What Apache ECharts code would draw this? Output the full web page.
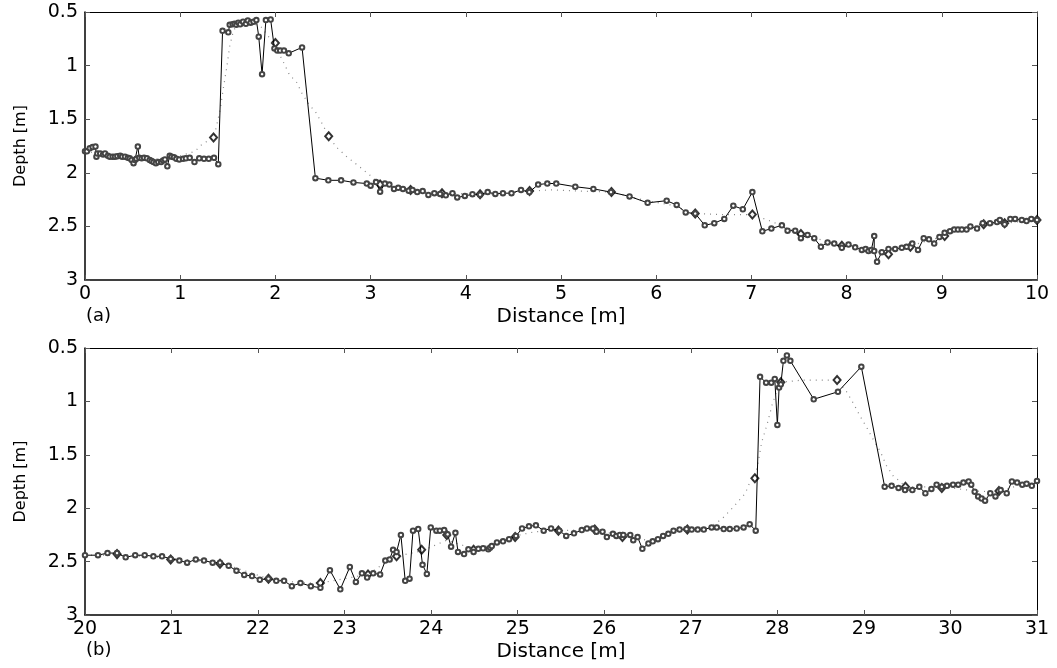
<!DOCTYPE html>
<html>
<head>
<meta charset="utf-8">
<script src="https://cdn.jsdelivr.net/npm/echarts@6/dist/echarts.min.js"></script>
<style>html,body{margin:0;padding:0;background:#fff}#c{width:1057px;height:668px}</style>
</head>
<body>
<div id="c"></div>
<script>
// ---- Panel (a) data ----
const topSolid = [[0,1.80],[0.02,1.80],[0.05,1.77],[0.08,1.76],[0.11,1.755],[0.12,1.85],[0.13,1.82],[0.16,1.82],[0.19,1.83],[0.21,1.82],[0.24,1.84],[0.26,1.85],[0.29,1.85],[0.315,1.85],[0.34,1.845],[0.37,1.84],[0.39,1.85],[0.42,1.85],[0.45,1.86],[0.47,1.865],[0.49,1.88],[0.51,1.91],[0.525,1.88],[0.54,1.87],[0.555,1.755],[0.57,1.86],[0.595,1.865],[0.62,1.86],[0.65,1.865],[0.68,1.88],[0.70,1.89],[0.72,1.90],[0.745,1.91],[0.77,1.90],[0.80,1.90],[0.82,1.885],[0.84,1.875],[0.865,1.94],[0.89,1.84],[0.91,1.85],[0.935,1.855],[0.96,1.87],[0.99,1.875],[1.03,1.87],[1.06,1.865],[1.10,1.86],[1.15,1.90],[1.20,1.865],[1.25,1.87],[1.30,1.87],[1.355,1.86],[1.40,1.92],[1.445,0.675],[1.505,0.69],[1.52,0.62],[1.55,0.615],[1.57,0.61],[1.59,0.62],[1.61,0.60],[1.63,0.615],[1.66,0.59],[1.69,0.61],[1.71,0.58],[1.74,0.60],[1.77,0.59],[1.80,0.575],[1.825,0.73],[1.86,1.08],[1.90,0.575],[1.95,0.57],[1.99,0.84],[2.02,0.86],[2.05,0.86],[2.09,0.86],[2.14,0.885],[2.28,0.83],[2.42,2.05],[2.556,2.07],[2.69,2.07],[2.82,2.09],[2.96,2.10],[3.0,2.12],[3.057,2.086],[3.10,2.176],[3.15,2.10],[3.197,2.11],[3.246,2.15],[3.29,2.14],[3.34,2.15],[3.40,2.167],[3.44,2.16],[3.49,2.18],[3.547,2.17],[3.607,2.207],[3.67,2.19],[3.73,2.197],[3.79,2.21],[3.86,2.19],[3.91,2.23],[3.99,2.216],[4.07,2.20],[4.15,2.204],[4.23,2.18],[4.31,2.197],[4.39,2.19],[4.48,2.19],[4.58,2.16],[4.667,2.18],[4.76,2.11],[4.856,2.10],[4.95,2.10],[5.15,2.13],[5.34,2.15],[5.525,2.18],[5.72,2.22],[5.91,2.28],[6.11,2.26],[6.215,2.30],[6.31,2.37],[6.41,2.38],[6.51,2.49],[6.61,2.47],[6.715,2.43],[6.81,2.307],[6.91,2.34],[7.01,2.18],[7.115,2.546],[7.21,2.52],[7.32,2.49],[7.38,2.54],[7.46,2.54],[7.52,2.61],[7.59,2.58],[7.66,2.61],[7.73,2.69],[7.80,2.65],[7.87,2.66],[7.95,2.70],[8.02,2.67],[8.09,2.695],[8.16,2.72],[8.20,2.71],[8.23,2.73],[8.26,2.72],[8.29,2.59],[8.29,2.73],[8.32,2.83],[8.37,2.74],[8.44,2.71],[8.51,2.71],[8.58,2.70],[8.63,2.69],[8.69,2.66],[8.75,2.72],[8.81,2.61],[8.865,2.62],[8.92,2.66],[8.975,2.60],[9.03,2.56],[9.086,2.545],[9.13,2.53],[9.17,2.53],[9.21,2.53],[9.26,2.53],[9.30,2.50],[9.37,2.52],[9.43,2.47],[9.506,2.47],[9.58,2.46],[9.61,2.44],[9.66,2.48],[9.72,2.43],[9.77,2.43],[9.84,2.44],[9.89,2.45],[9.94,2.43],[10.0,2.44]];
const topDotted = [[0,1.80],[0.3,1.84],[0.6,1.87],[0.9,1.87],[1.155,1.80],[1.24,1.725],[1.35,1.68],[1.38,1.57],[1.42,1.41],[1.45,1.23],[1.49,1.01],[1.52,0.82],[1.56,0.67],[1.62,0.61],[1.75,0.60],[1.85,0.64],[1.98,0.79],[2.08,0.96],[2.15,1.09],[2.22,1.15],[2.28,1.26],[2.36,1.37],[2.42,1.43],[2.49,1.54],[2.56,1.66],[2.64,1.76],[2.75,1.85],[2.85,1.92],[2.92,1.97],[2.99,2.02],[3.10,2.11],[3.42,2.16],[3.75,2.19],[4.15,2.20],[4.45,2.19],[4.67,2.17],[4.9,2.16],[5.2,2.17],[5.53,2.18],[5.9,2.26],[6.15,2.30],[6.41,2.38],[6.7,2.39],[7.01,2.39],[7.2,2.45],[7.52,2.57],[7.95,2.68],[8.2,2.71],[8.44,2.76],[8.67,2.68],[9.03,2.59],[9.2,2.53],[9.44,2.48],[9.66,2.47],[10.0,2.44]];
const topDiamonds = [[1.35,1.67],[2.0,0.79],[2.56,1.66],[3.10,2.11],[3.42,2.16],[3.75,2.19],[4.15,2.20],[4.67,2.17],[5.53,2.18],[6.41,2.38],[7.01,2.39],[7.52,2.57],[7.95,2.68],[8.44,2.76],[8.67,2.69],[9.03,2.59],[9.44,2.48],[9.66,2.47],[10.0,2.44]];

// ---- Panel (b) data ----
const botSolid = [[20.0,2.44],[20.15,2.44],[20.26,2.42],[20.37,2.42],[20.47,2.46],[20.58,2.44],[20.69,2.44],[20.79,2.45],[20.89,2.45],[20.99,2.475],[21.09,2.49],[21.18,2.51],[21.28,2.48],[21.375,2.49],[21.475,2.51],[21.56,2.51],[21.66,2.54],[21.75,2.585],[21.84,2.625],[21.93,2.635],[22.02,2.67],[22.12,2.66],[22.21,2.68],[22.30,2.68],[22.39,2.73],[22.49,2.70],[22.61,2.73],[22.72,2.745],[22.83,2.58],[22.95,2.76],[23.06,2.55],[23.13,2.69],[23.20,2.61],[23.26,2.65],[23.33,2.61],[23.41,2.62],[23.47,2.49],[23.52,2.48],[23.56,2.39],[23.60,2.41],[23.65,2.25],[23.70,2.68],[23.75,2.66],[23.79,2.21],[23.85,2.195],[23.90,2.53],[23.95,2.615],[23.995,2.18],[24.06,2.21],[24.10,2.21],[24.15,2.205],[24.19,2.245],[24.23,2.36],[24.28,2.23],[24.31,2.41],[24.38,2.43],[24.43,2.385],[24.49,2.41],[24.545,2.38],[24.60,2.375],[24.66,2.385],[24.68,2.37],[24.70,2.355],[24.76,2.32],[24.83,2.31],[24.90,2.29],[24.98,2.26],[25.05,2.19],[25.13,2.17],[25.21,2.16],[25.30,2.21],[25.385,2.19],[25.48,2.21],[25.56,2.26],[25.65,2.235],[25.74,2.205],[25.80,2.19],[25.87,2.19],[25.91,2.22],[25.98,2.22],[26.03,2.27],[26.10,2.24],[26.14,2.26],[26.18,2.25],[26.22,2.25],[26.30,2.25],[26.335,2.30],[26.385,2.27],[26.44,2.38],[26.51,2.33],[26.56,2.31],[26.62,2.29],[26.68,2.26],[26.74,2.24],[26.80,2.21],[26.87,2.20],[26.95,2.195],[27.01,2.20],[27.08,2.20],[27.15,2.20],[27.24,2.18],[27.30,2.18],[27.38,2.195],[27.45,2.195],[27.53,2.19],[27.61,2.18],[27.68,2.15],[27.75,2.21],[27.80,0.77],[27.87,0.825],[27.93,0.825],[27.97,0.79],[28.00,1.22],[28.02,0.87],[28.04,0.84],[28.07,0.62],[28.11,0.57],[28.15,0.62],[28.42,0.98],[28.70,0.91],[28.97,0.675],[29.24,1.80],[29.32,1.79],[29.40,1.81],[29.475,1.83],[29.56,1.83],[29.64,1.80],[29.71,1.86],[29.78,1.82],[29.84,1.78],[29.90,1.80],[29.96,1.79],[30.03,1.78],[30.09,1.78],[30.15,1.76],[30.21,1.75],[30.24,1.78],[30.28,1.845],[30.32,1.89],[30.36,1.91],[30.40,1.93],[30.46,1.86],[30.52,1.89],[30.58,1.83],[30.65,1.86],[30.71,1.75],[30.77,1.76],[30.83,1.78],[30.88,1.77],[30.94,1.79],[31.0,1.745]];
const botDotted = [[20.0,2.44],[20.5,2.44],[21.0,2.47],[21.56,2.51],[22.12,2.66],[22.5,2.70],[22.72,2.70],[23.0,2.66],[23.27,2.62],[23.45,2.52],[23.60,2.45],[23.89,2.40],[24.18,2.30],[24.49,2.38],[24.8,2.32],[24.97,2.26],[25.2,2.22],[25.47,2.21],[25.89,2.20],[26.21,2.26],[26.5,2.30],[26.96,2.20],[27.2,2.19],[27.36,2.10],[27.49,1.99],[27.63,1.86],[27.67,1.78],[27.74,1.72],[27.78,1.56],[27.82,1.38],[27.88,1.22],[27.94,1.03],[27.99,0.91],[28.04,0.82],[28.3,0.80],[28.69,0.80],[28.80,0.91],[28.88,1.02],[28.95,1.13],[29.03,1.24],[29.11,1.36],[29.19,1.47],[29.26,1.60],[29.34,1.70],[29.42,1.75],[29.48,1.80],[29.90,1.80],[30.3,1.84],[30.56,1.85],[30.8,1.78],[31.0,1.77]];
const botDiamonds = [[20.37,2.43],[20.99,2.48],[21.56,2.52],[22.12,2.66],[22.72,2.70],[23.27,2.62],[23.60,2.45],[23.89,2.39],[24.18,2.25],[24.49,2.39],[24.97,2.27],[25.47,2.21],[25.89,2.20],[26.21,2.27],[26.96,2.20],[27.74,1.72],[28.04,0.82],[28.69,0.80],[29.48,1.80],[29.90,1.81],[30.56,1.84]];

// ---- Axes ----
const depthTicks = {min: 0.5, max: 3, interval: 0.5};
const topRange = {min: 0, max: 10, interval: 1};
const botRange = {min: 20, max: 31, interval: 1};
const panelLabels = ['(a)', '(b)'];
const xName = 'Distance [m]';
const yName = 'Depth [m]';

const FONT = 'DejaVu Sans';
const grids = [
  {left: 85, top: 12, width: 952, height: 268},
  {left: 85, top: 348, width: 952, height: 267}
];
const tick = {show: true, inside: true, length: 5, lineStyle: {color: '#555', width: 1}};
const xAxes = [], yAxes = [];
[topRange, botRange].forEach((r, i) => {
  xAxes.push({type: 'value', gridIndex: i, min: r.min, max: r.max, interval: r.interval, position: 'bottom',
    axisLine: {show: true, onZero: false, lineStyle: {color: '#000', width: 1.5}},
    axisTick: tick, splitLine: {show: false},
    axisLabel: {color: '#000', fontFamily: FONT, fontSize: 19, margin: 5},
    name: xName, nameLocation: 'middle', nameGap: 27,
    nameTextStyle: {color: '#000', fontFamily: FONT, fontSize: 20}});
  xAxes.push({type: 'value', gridIndex: i, min: r.min, max: r.max, interval: r.interval, position: 'top',
    axisLine: {show: true, onZero: false, lineStyle: {color: '#000', width: 1}},
    axisTick: tick, splitLine: {show: false}, axisLabel: {show: false}});
  yAxes.push({type: 'value', gridIndex: i, inverse: true, min: depthTicks.min, max: depthTicks.max, interval: depthTicks.interval, position: 'left',
    axisLine: {show: true, onZero: false, lineStyle: {color: '#000', width: 1.5}},
    axisTick: tick, splitLine: {show: false},
    axisLabel: {color: '#000', fontFamily: FONT, fontSize: 19, margin: 7},
    name: yName, nameLocation: 'middle', nameGap: 56, nameRotate: 90,
    nameTextStyle: {color: '#000', fontFamily: FONT, fontSize: 16}});
  yAxes.push({type: 'value', gridIndex: i, inverse: true, min: depthTicks.min, max: depthTicks.max, interval: depthTicks.interval, position: 'right',
    axisLine: {show: true, onZero: false, lineStyle: {color: '#000', width: 1}},
    axisTick: tick, splitLine: {show: false}, axisLabel: {show: false}});
});

const series = [];
[[topSolid, topDotted, topDiamonds], [botSolid, botDotted, botDiamonds]].forEach((d, i) => {
  const xi = i * 2, yi = i * 2;
  series.push({type: 'line', xAxisIndex: xi, yAxisIndex: yi, data: d[1], symbol: 'none', silent: true,
    lineStyle: {color: '#888', width: 1.2, type: [1, 5]}, z: 1});
  series.push({type: 'line', xAxisIndex: xi, yAxisIndex: yi, data: d[0], symbol: 'emptyCircle', symbolSize: 4.5,
    itemStyle: {color: '#444', borderWidth: 1}, lineStyle: {color: '#000', width: 1}, z: 3});
  series.push({type: 'scatter', xAxisIndex: xi, yAxisIndex: yi, data: d[2], symbol: 'emptyDiamond', symbolSize: [7, 8],
    itemStyle: {color: '#000', borderWidth: 1}, z: 2});
});

const chart = echarts.init(document.getElementById('c'), null, {renderer: 'canvas'});
chart.setOption({
  animation: false,
  backgroundColor: '#fff',
  grid: grids,
  xAxis: xAxes,
  yAxis: yAxes,
  series: series,
  title: [
    {text: panelLabels[0], left: 86, top: 307, textStyle: {color: '#000', fontFamily: FONT, fontSize: 18, fontWeight: 'normal'}, padding: 0},
    {text: panelLabels[1], left: 86, top: 641, textStyle: {color: '#000', fontFamily: FONT, fontSize: 18, fontWeight: 'normal'}, padding: 0}
  ]
});
</script>
</body>
</html>
